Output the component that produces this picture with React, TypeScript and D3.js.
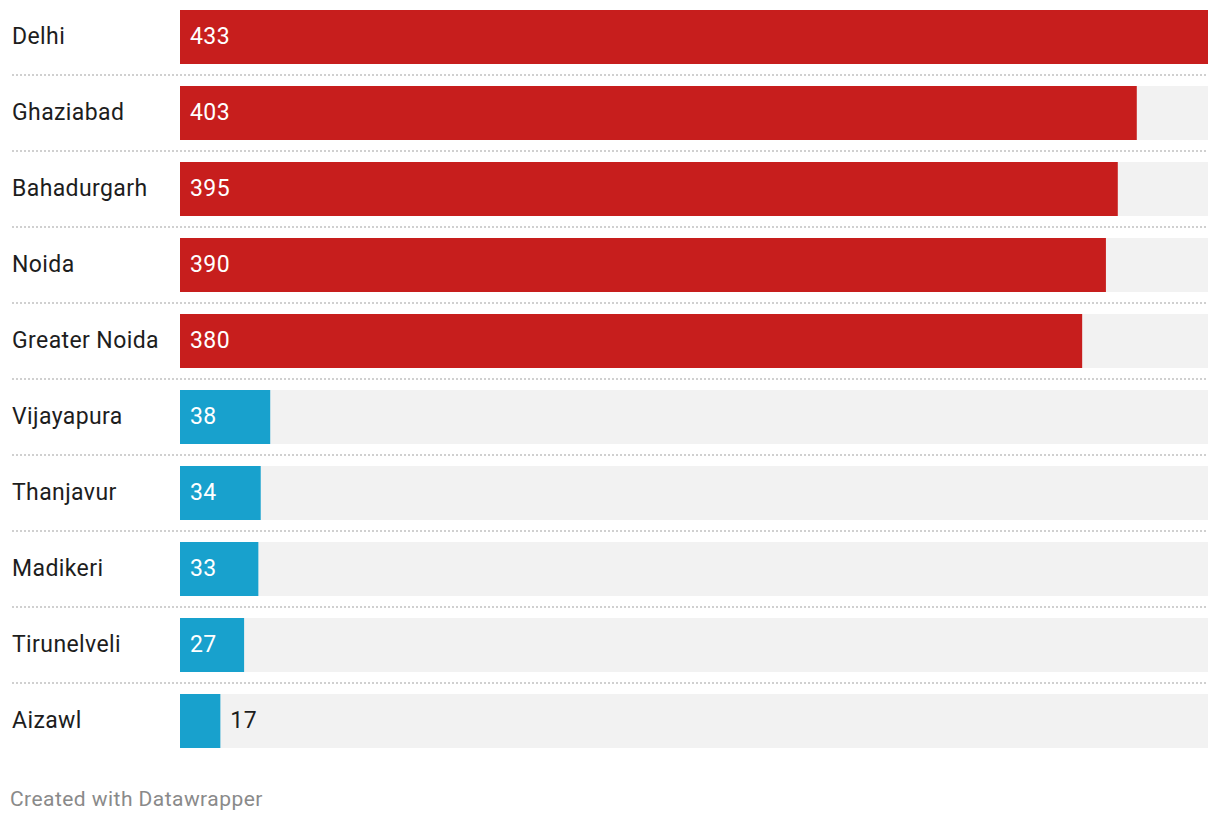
import React, { useEffect, useRef } from 'react';
import * as d3 from 'd3';

const cities = ['Delhi', 'Ghaziabad', 'Bahadurgarh', 'Noida', 'Greater Noida', 'Vijayapura', 'Thanjavur', 'Madikeri', 'Tirunelveli', 'Aizawl'];
const aqi = [433, 403, 395, 390, 380, 38, 34, 33, 27, 17];
const group = ['high', 'high', 'high', 'high', 'high', 'low', 'low', 'low', 'low', 'low'];

const colors: Record<string, string> = { high: '#c71e1d', low: '#18a1cd' };

export default function App() {
  const svgRef = useRef<SVGSVGElement>(null);

  useEffect(() => {
    if (!svgRef.current) return;
    const svg = d3.select(svgRef.current);
    svg.selectAll('*').remove();

    const width = 1220;
    const height = 824;
    const left = 180;
    const right = 1208;
    const top = 10;
    const step = 76;
    const barH = 54;
    const gap = step - barH;

    const data = cities.map((c, i) => ({ city: c, value: aqi[i], group: group[i] }));

    const x = d3.scaleLinear().domain([0, d3.max(aqi) as number]).range([left, right]);
    const y = d3.scaleBand<string>()
      .domain(cities)
      .range([top, top + step * cities.length - gap])
      .paddingInner(gap / step)
      .paddingOuter(0);

    svg.attr('width', width).attr('height', height);
    svg.append('rect').attr('width', width).attr('height', height).attr('fill', '#fff');

    // dotted separators between rows
    svg.selectAll('.sep')
      .data(data.slice(1))
      .enter()
      .append('line')
      .attr('x1', 12)
      .attr('x2', right)
      .attr('y1', d => (y(d.city) as number) - 11)
      .attr('y2', d => (y(d.city) as number) - 11)
      .attr('stroke', '#d0d0d0')
      .attr('stroke-width', 2)
      .attr('stroke-dasharray', '2 2');

    const rows = svg.selectAll('.row')
      .data(data)
      .enter()
      .append('g')
      .attr('transform', d => `translate(0,${y(d.city)})`);

    rows.append('rect')
      .attr('x', left)
      .attr('width', right - left)
      .attr('height', y.bandwidth())
      .attr('fill', '#f2f2f2');

    rows.append('rect')
      .attr('x', left)
      .attr('width', d => x(d.value) - left)
      .attr('height', y.bandwidth())
      .attr('fill', d => colors[d.group]);

    const inside = (v: number) => x(v) - left > 60;

    rows.append('text')
      .attr('x', 12)
      .attr('y', y.bandwidth() / 2)
      .attr('dy', '0.3em')
      .style('font-family', 'Roboto, sans-serif')
      .style('font-size', '23px')
      .style('letter-spacing', '0.4px')
      .style('fill', '#1d1d1d')
      .text(d => d.city);

    rows.append('text')
      .attr('x', d => (inside(d.value) ? left + 10 : x(d.value) + 10))
      .attr('y', y.bandwidth() / 2)
      .attr('dy', '0.3em')
      .style('font-family', 'Roboto, sans-serif')
      .style('font-size', '23px')
      .style('letter-spacing', '0.4px')
      .style('fill', d => (inside(d.value) ? '#fff' : '#1d1d1d'))
      .text(d => d.value);

    svg.append('text')
      .attr('x', 10)
      .attr('y', 806)
      .style('font-family', 'Roboto, sans-serif')
      .style('font-size', '21px')
      .style('letter-spacing', '0.45px')
      .style('fill', '#8a8a8a')
      .text('Created with Datawrapper');
  }, []);

  return <svg ref={svgRef} style={{ display: 'block', position: 'absolute', left: 0, top: 0 }} />;
}
